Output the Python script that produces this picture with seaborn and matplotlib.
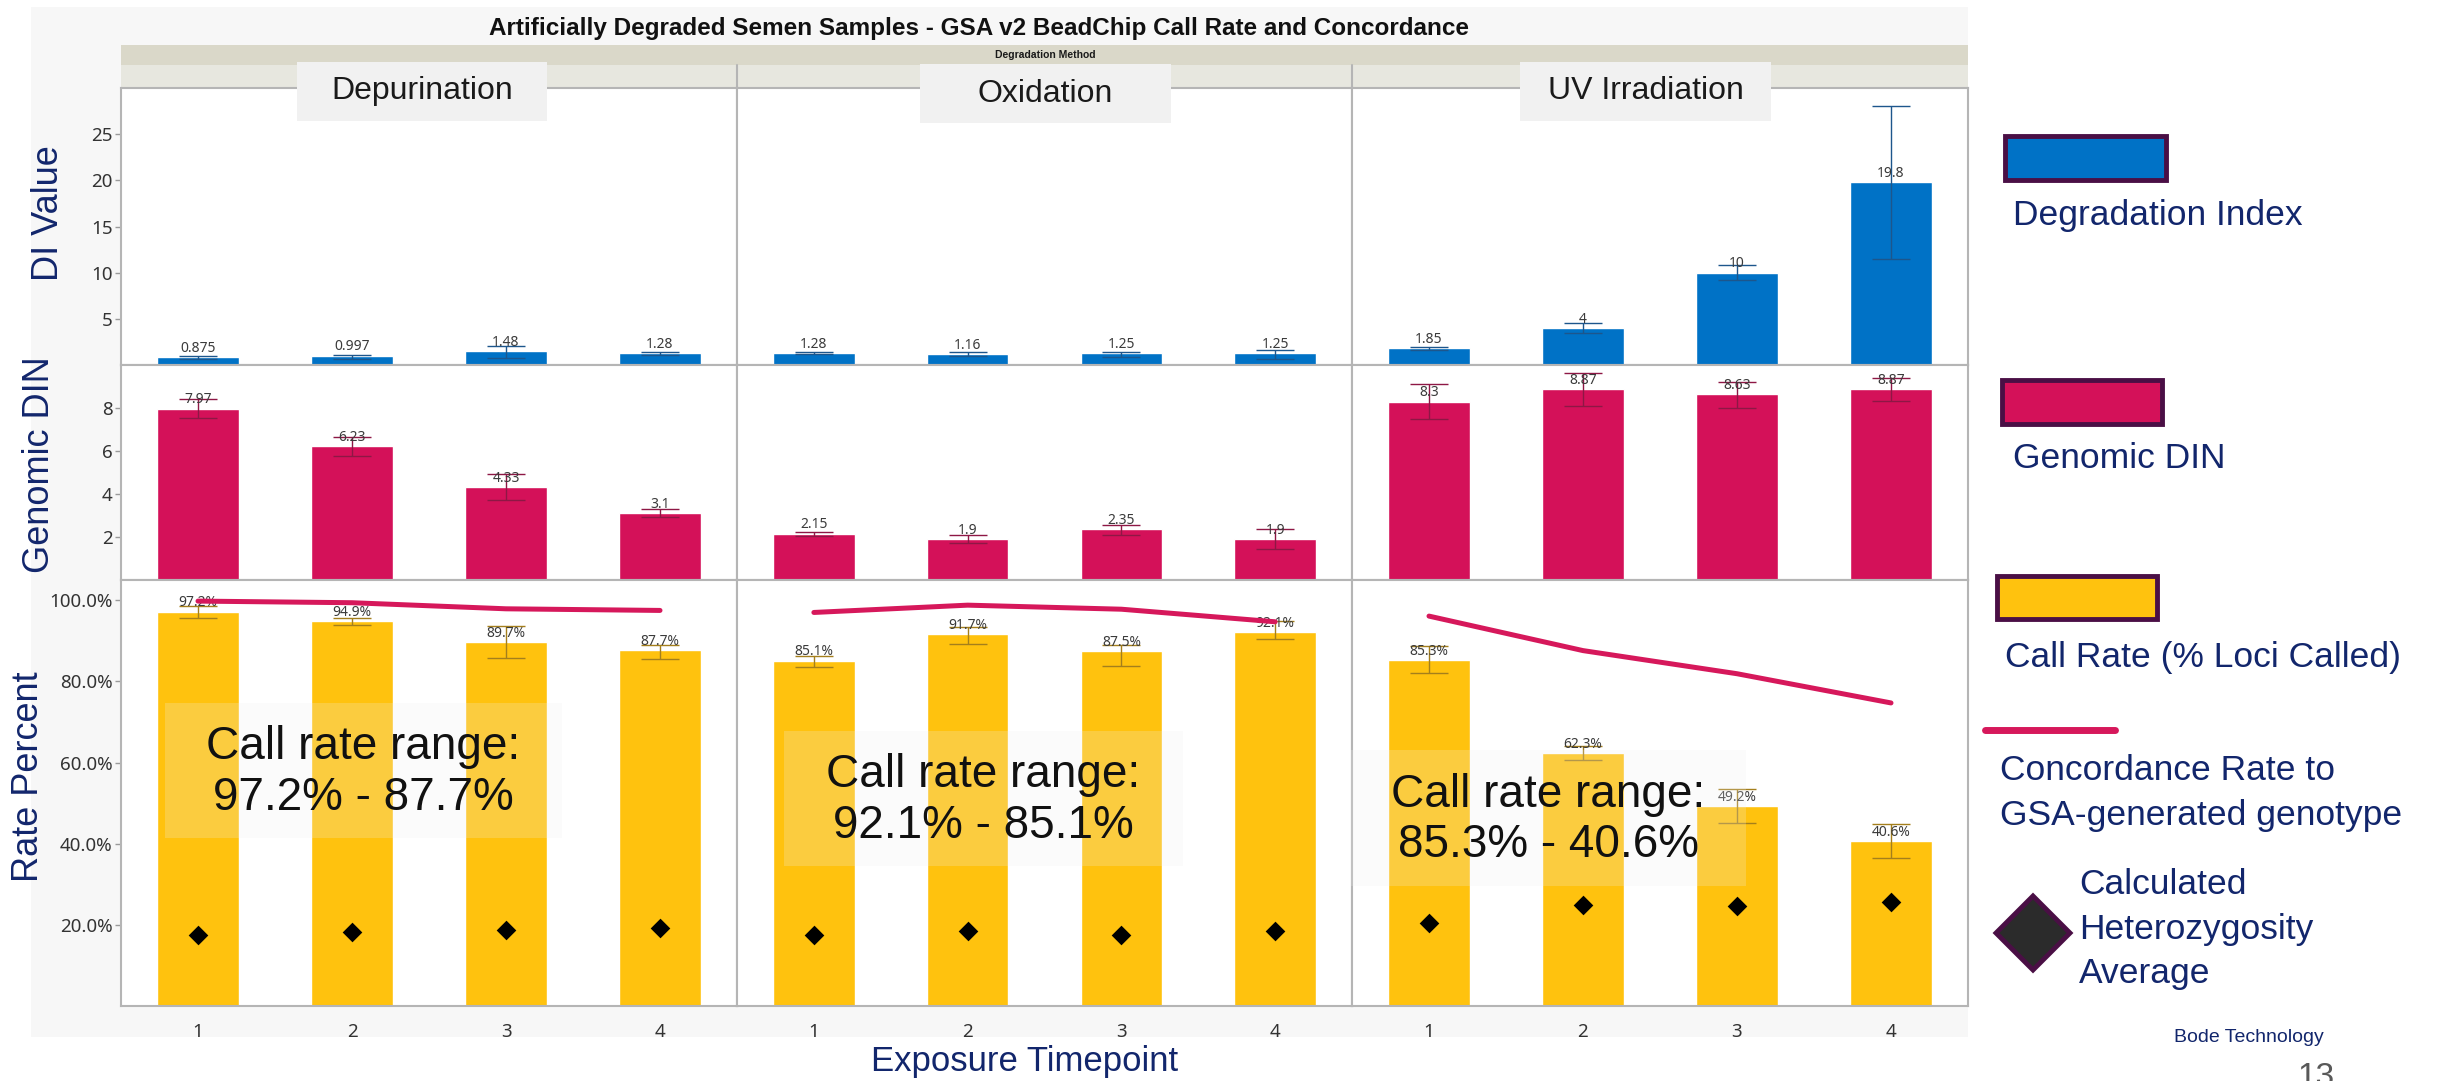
import numpy as np
import pandas as pd
import matplotlib.pyplot as plt
import seaborn as sns
from matplotlib.patches import Rectangle, Polygon
from matplotlib.lines import Line2D

# data
methods = ['Depurination', 'Oxidation', 'UV Irradiation']
timepoints = [1, 2, 3, 4]

di_vals = [[0.875, 0.997, 1.48, 1.28], [1.28, 1.16, 1.25, 1.25], [1.85, 4, 10, 19.8]]
di_lo = [[0.69, 0.70, 0.81, 1.09], [1.18, 0.94, 0.92, 0.69], [1.63, 3.45, 9.16, 11.47]]
di_hi = [[0.99, 1.10, 2.11, 1.39], [1.36, 1.38, 1.36, 1.66], [2.00, 4.55, 10.84, 28.05]]

din_vals = [[7.97, 6.23, 4.33, 3.1], [2.15, 1.9, 2.35, 1.9], [8.3, 8.87, 8.63, 8.87]]
din_lo = [[7.55, 5.79, 3.73, 2.91], [2.04, 1.73, 2.11, 1.44], [7.47, 8.10, 8.02, 8.32]]
din_hi = [[8.41, 6.65, 4.94, 3.30], [2.23, 2.07, 2.57, 2.36], [9.12, 9.62, 9.23, 9.39]]

rate_vals = [[97.2, 94.9, 89.7, 87.7], [85.1, 91.7, 87.5, 92.1], [85.3, 62.3, 49.2, 40.6]]
rate_lo = [[95.7, 93.9, 85.7, 85.6], [83.5, 89.2, 83.9, 90.5], [82.0, 60.6, 45.0, 36.6]]
rate_hi = [[98.6, 95.7, 93.6, 89.0], [86.2, 93.3, 89.1, 94.8], [88.8, 64.2, 53.5, 44.8]]

concordance = [[99.8, 99.4, 97.9, 97.5], [97.0, 98.8, 97.8, 94.7], [96.1, 87.6, 81.9, 74.7]]
heterozygosity = [[17.6, 18.2, 18.8, 19.2], [17.6, 18.4, 17.4, 18.5], [20.4, 24.8, 24.7, 25.6]]

di_labels = [['0.875', '0.997', '1.48', '1.28'], ['1.28', '1.16', '1.25', '1.25'], ['1.85', '4', '10', '19.8']]
din_labels = [['7.97', '6.23', '4.33', '3.1'], ['2.15', '1.9', '2.35', '1.9'], ['8.3', '8.87', '8.63', '8.87']]
range_text = ['Call rate range:\n97.2% - 87.7%', 'Call rate range:\n92.1% - 85.1%', 'Call rate range:\n85.3% - 40.6%']

rows = []
for i, m in enumerate(methods):
    for j, t in enumerate(timepoints):
        rows.append(dict(method=m, timepoint=t,
                         di=di_vals[i][j], di_lo=di_lo[i][j], di_hi=di_hi[i][j],
                         din=din_vals[i][j], din_lo=din_lo[i][j], din_hi=din_hi[i][j],
                         rate=rate_vals[i][j], rate_lo=rate_lo[i][j], rate_hi=rate_hi[i][j],
                         conc=concordance[i][j], het=heterozygosity[i][j]))
df = pd.DataFrame(rows)

sns.set_theme(style='white')
plt.rcParams['font.family'] = ['Noto Sans', 'DejaVu Sans']

W, H = 2443, 1081
fig = plt.figure(figsize=(W / 100, H / 100), dpi=100)

def px_rect(x0, y0, x1, y1):
    return [x0 / W, 1 - y1 / H, (x1 - x0) / W, (y1 - y0) / H]

def ftext(x, y, s, **kw):
    fig.text(x / W, 1 - y / H, s, **kw)

def fbox(x0, y0, x1, y1, **kw):
    fig.add_artist(Rectangle((x0 / W, 1 - y1 / H), (x1 - x0) / W, (y1 - y0) / H,
                             transform=fig.transFigure, **kw))

BLUE, RED, GOLD = '#0072C6', '#D41159', '#FFC20E'
NAVY = '#12266c'
ARIAL = ['Liberation Sans', 'DejaVu Sans']

# frame and header bands
fbox(31, 7, 1968, 1037, facecolor='#f7f7f7', edgecolor='none', zorder=-2)
fbox(121, 45, 1968, 65, facecolor='#dad8c9', edgecolor='none', zorder=-1)
fbox(121, 65, 1968, 88, facecolor='#e7e7df', edgecolor='none', zorder=-1)
for xd in (737, 1352):
    fig.add_artist(Line2D([xd / W, xd / W], [1 - 65 / H, 1 - 88 / H], color='#b5b5b5',
                          lw=1.5, transform=fig.transFigure))

ftext(979, 28, 'Artificially Degraded Semen Samples - GSA v2 BeadChip Call Rate and Concordance',
      ha='center', va='center', fontsize=17.5, fontweight='bold', family=ARIAL, color='#111111')
ftext(1045, 55, 'Degradation Method', ha='center', va='center', fontsize=7.5,
      fontweight='bold', family=ARIAL, color='#1a1a1a')

cols = [(121, 737), (737, 1352), (1352, 1968)]
rowpx = [(88, 365), (365, 580), (580, 1006)]
measures = [('di', BLUE, '#1d568c', (0, 30), [5, 10, 15, 20, 25]),
            ('din', RED, '#8e1745', (0, 10), [2, 4, 6, 8]),
            ('rate', GOLD, '#a47f1c', (0, 105), [20, 40, 60, 80, 100])]

for r, (key, color, ecol, ylim, yticks) in enumerate(measures):
    for c, m in enumerate(methods):
        ax = fig.add_axes(px_rect(cols[c][0], rowpx[r][0], cols[c][1], rowpx[r][1]))
        sub = df[df['method'] == m]
        sns.barplot(data=sub, x='timepoint', y=key, color=color, saturation=1,
                    width=0.53, errorbar=None, ax=ax, zorder=2)
        vals = sub[key].to_numpy()
        pos = np.arange(len(vals))
        ax.errorbar(pos, vals, yerr=[vals - sub[key + '_lo'].to_numpy(),
                                     sub[key + '_hi'].to_numpy() - vals],
                    fmt='none', ecolor=ecol, elinewidth=1, capsize=14, capthick=1, zorder=3)
        if key == 'di':
            labs = di_labels[c]
        elif key == 'din':
            labs = din_labels[c]
        else:
            labs = [f'{v:.1f}%' for v in vals]
        ax.bar_label(ax.containers[0], labels=labs, padding=1, fontsize=10, color='#3b3b3b')
        if key == 'rate':
            ax.plot(pos, sub['conc'], color='#D6185B', lw=3.6, zorder=4)
            sns.stripplot(data=sub, x='timepoint', y='het', marker='D', color='black',
                          size=10, jitter=False, ax=ax, zorder=5)
        ax.set_xlim(-0.5, 3.5)
        ax.set_ylim(*ylim)
        ax.set_yticks(yticks)
        if key == 'rate':
            ax.set_yticklabels([f'{t:.1f}%' for t in yticks])
        ax.set_xlabel('')
        ax.set_ylabel('')
        ax.set_facecolor('white')
        for s in ax.spines.values():
            s.set_color('#b5b5b5')
            s.set_linewidth(1.5)
        ax.tick_params(axis='y', left=(c == 0), labelleft=(c == 0), length=4, width=1,
                       color='#9a9a9a', pad=2, labelsize=13.5, labelcolor='#333333')
        ax.tick_params(axis='x', bottom=False, labelbottom=(r == 2), pad=6,
                       labelsize=13.5, labelcolor='#333333')

# facet label boxes
for (x0, y0, x1, y1), m in zip([(297, 62, 547, 121), (920, 64, 1171, 123), (1520, 62, 1771, 121)], methods):
    fbox(x0, y0, x1, y1, facecolor='#f1f1f1', edgecolor='none', zorder=5)
    ftext((x0 + x1) / 2, (y0 + y1) / 2, m, ha='center', va='center', fontsize=23,
          family=ARIAL, color='#1a1a1a', zorder=6)

# call rate range boxes
for (x0, y0, x1, y1), s in zip([(165, 703, 562, 838), (784, 731, 1183, 866), (1351, 750, 1746, 886)], range_text):
    fbox(x0, y0, x1, y1, facecolor='#f0f0f0', alpha=0.22, edgecolor='none', zorder=6)
    ftext((x0 + x1) / 2, (y0 + y1) / 2 + 2, s, ha='center', va='center', fontsize=33,
          family=ARIAL, color='#111111', linespacing=1.2, zorder=7)

# axis titles
ftext(48, 213, 'DI Value', rotation=90, ha='center', va='center', fontsize=26, family=ARIAL, color=NAVY)
ftext(40, 465, 'Genomic DIN', rotation=90, ha='center', va='center', fontsize=26, family=ARIAL, color=NAVY)
ftext(29, 777, 'Rate Percent', rotation=90, ha='center', va='center', fontsize=26, family=ARIAL, color=NAVY)
ftext(1025, 1062, 'Exposure Timepoint', ha='center', va='center', fontsize=25, family=ARIAL, color=NAVY)

# legend
PURPLE = '#4a0f45'
fbox(2005, 136, 2166, 180, facecolor=BLUE, edgecolor=PURPLE, lw=3.5)
ftext(2013, 216, 'Degradation Index', ha='left', va='center', fontsize=25.5, family=ARIAL, color=NAVY)
fbox(2002, 380, 2162, 424, facecolor=RED, edgecolor=PURPLE, lw=3.5)
ftext(2013, 459, 'Genomic DIN', ha='left', va='center', fontsize=25.5, family=ARIAL, color=NAVY)
fbox(1997, 576, 2157, 619, facecolor=GOLD, edgecolor=PURPLE, lw=3.5)
ftext(2005, 658, 'Call Rate (% Loci Called)', ha='left', va='center', fontsize=25.5, family=ARIAL, color=NAVY)
fig.add_artist(Line2D([1985 / W, 2115 / W], [1 - 730 / H, 1 - 730 / H], color='#D6185B', lw=5,
                      transform=fig.transFigure))
ftext(2000, 771, 'Concordance Rate to', ha='left', va='center', fontsize=25.5, family=ARIAL, color=NAVY)
ftext(2000, 816, 'GSA-generated genotype', ha='left', va='center', fontsize=25.5, family=ARIAL, color=NAVY)
cx, cy, hw = 2033, 933, 37
diamond = [(cx - hw, cy), (cx, cy - hw), (cx + hw, cy), (cx, cy + hw)]
fig.add_artist(Polygon([(x / W, 1 - y / H) for x, y in diamond], closed=True, facecolor='#2b2b2b',
                       edgecolor=PURPLE, lw=3.5, transform=fig.transFigure))
for yy, s in zip((884, 930, 974), ('Calculated', 'Heterozygosity', 'Average')):
    ftext(2079, yy, s, ha='left', va='center', fontsize=25.5, family=ARIAL, color=NAVY)
ftext(2174, 1037, 'Bode Technology', ha='left', va='center', fontsize=14, family=ARIAL, color=NAVY)
ftext(2298, 1062, '13', ha='left', va='top', fontsize=24, family=ARIAL, color='#595959')

fig.savefig('out.png', dpi=100)
